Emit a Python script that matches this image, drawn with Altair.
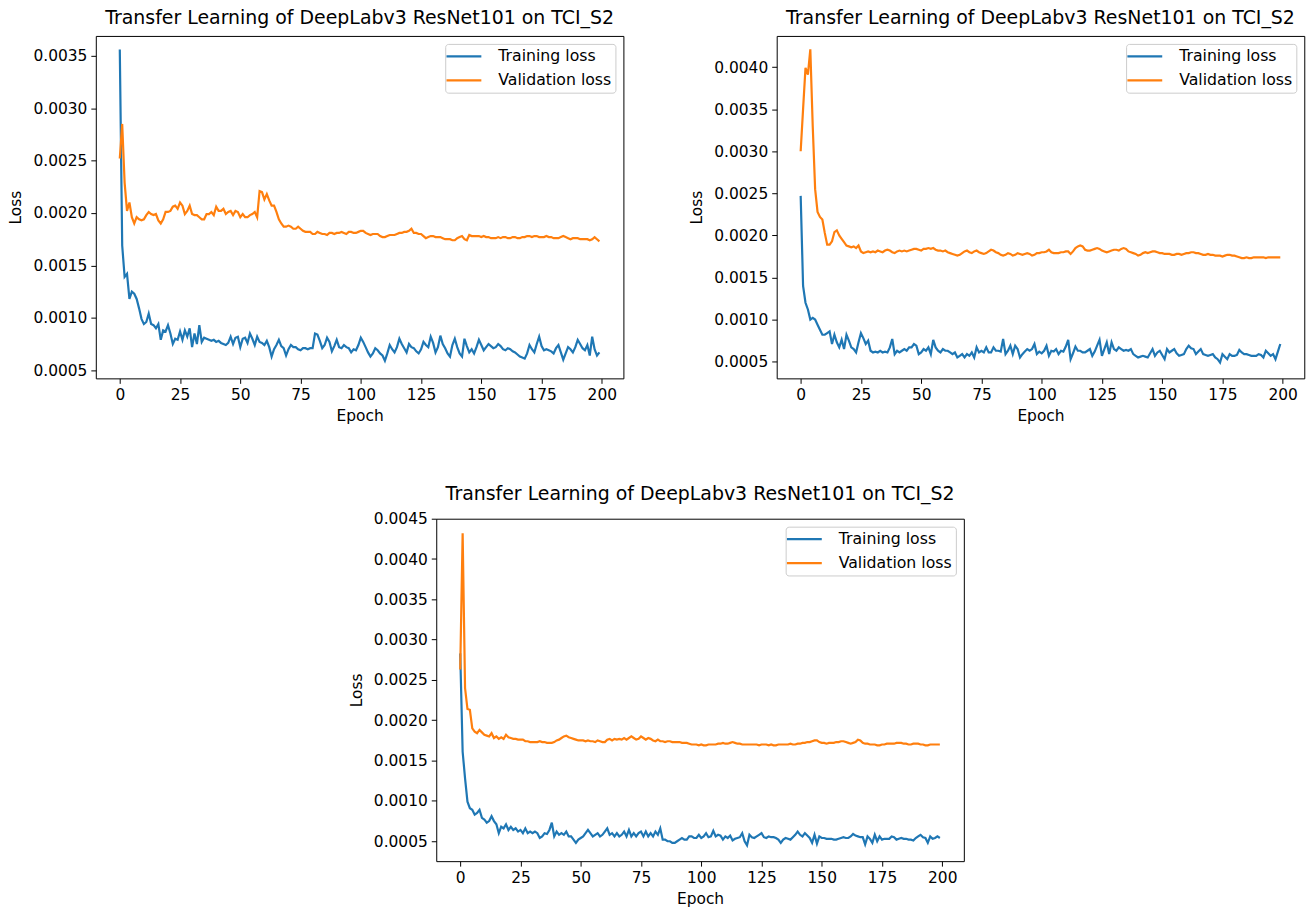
import altair as alt
import pandas as pd

TITLE = "Transfer Learning of DeepLabv3 ResNet101 on TCI_S2"
SERIES = ["Training loss", "Validation loss"]
COLORS = ["#1f77b4", "#ff7f0e"]
epochs = list(range(200))
x_ticks = [0, 25, 50, 75, 100, 125, 150, 175, 200]

# loss values in units of 1e-5
p1_train = [
    356, 169, 139, 142, 118, 125, 123, 118, 109, 99,
    94, 96, 104, 94, 93, 90, 94, 79, 88, 87,
    93, 85, 75, 80, 79, 87, 79, 88, 82, 90,
    72, 85, 75, 93, 77, 81, 80, 79, 78, 79,
    77, 78, 76, 75, 74, 76, 82, 75, 81, 82,
    72, 80, 81, 76, 85, 80, 74, 82, 77, 76,
    74, 78, 72, 63, 70, 74, 79, 73, 71, 64,
    70, 74, 72, 72, 70, 69, 71, 71, 70, 71,
    71, 85, 84, 78, 71, 74, 81, 77, 68, 73,
    79, 72, 71, 74, 72, 71, 67, 70, 69, 74,
    81, 77, 72, 67, 63, 66, 71, 69, 66, 64,
    59, 66, 74, 70, 67, 72, 80, 75, 71, 67,
    75, 72, 71, 68, 66, 70, 77, 74, 72, 82,
    76, 67, 72, 83, 75, 71, 66, 63, 74, 80,
    72, 66, 63, 80, 73, 67, 70, 66, 72, 79,
    74, 69, 72, 75, 73, 71, 72, 75, 73, 70,
    69, 71, 70, 68, 67, 65, 63, 62, 61, 66,
    74, 70, 67, 75, 82, 73, 69, 70, 69, 68,
    66, 71, 74, 67, 60, 66, 72, 70, 67, 72,
    79, 75, 71, 69, 74, 64, 82, 70, 64, 67,
]
p1_val = [
    252, 285, 229, 202, 210, 196, 190, 196, 194, 193,
    194, 198, 201, 199, 198, 199, 193, 190, 194, 201,
    201, 202, 206, 207, 204, 210, 207, 199, 202, 207,
    199, 198, 198, 196, 194, 194, 199, 199, 201, 198,
    206, 202, 202, 204, 199, 201, 202, 198, 202, 201,
    196, 199, 196, 196, 198, 199, 201, 196, 221, 220,
    213, 218, 212, 207, 207, 201, 194, 190, 187, 187,
    188, 187, 185, 185, 187, 185, 183, 182, 182, 182,
    180, 180, 182, 181, 180, 180, 179, 181, 181, 180,
    181, 181, 182, 181, 180, 182, 182, 181, 181, 182,
    183, 183, 181, 180, 179, 180, 180, 180, 178, 177,
    177, 178, 179, 179, 179, 180, 181, 181, 182, 182,
    183, 185, 181, 181, 180, 180, 178, 176, 177, 178,
    178, 177, 177, 177, 176, 175, 175, 175, 174, 174,
    176, 177, 178, 175, 174, 179, 178, 178, 178, 178,
    177, 178, 177, 177, 176, 176, 176, 177, 176, 177,
    177, 176, 176, 177, 177, 176, 176, 177, 177, 178,
    178, 177, 178, 178, 177, 177, 177, 178, 177, 177,
    176, 176, 176, 177, 178, 177, 176, 175, 176, 176,
    176, 175, 175, 175, 175, 174, 175, 177, 175, 173,
]
p2_train = [
    247, 140, 120, 112, 100, 102, 100, 94, 88, 82,
    82, 84, 86, 71, 82, 73, 67, 76, 65, 82,
    75, 67, 65, 61, 73, 84, 78, 71, 75, 63,
    61, 62, 61, 63, 61, 62, 61, 67, 77, 59,
    63, 61, 63, 65, 63, 67, 67, 71, 69, 59,
    61, 65, 63, 67, 59, 76, 67, 63, 61, 65,
    63, 63, 61, 59, 61, 55, 57, 59, 55, 59,
    57, 61, 55, 67, 61, 63, 61, 67, 61, 61,
    67, 63, 63, 62, 77, 59, 63, 69, 59, 69,
    65, 55, 59, 62, 65, 63, 65, 71, 59, 62,
    60, 63, 69, 57, 63, 62, 65, 59, 63, 62,
    68, 76, 53, 60, 68, 63, 63, 61, 61, 63,
    65, 57, 62, 69, 76, 57, 65, 73, 59, 73,
    65, 63, 67, 65, 63, 64, 63, 65, 59, 57,
    55, 56, 57, 56, 55, 60, 65, 57, 61, 63,
    58, 53, 65, 61, 63, 65, 60, 57, 58, 59,
    65, 69, 66, 65, 59, 62, 65, 59, 58, 57,
    58, 59, 55, 53, 49, 59, 56, 53, 59, 57,
    57, 58, 64, 61, 59, 59, 58, 57, 57, 57,
    59, 58, 55, 63, 60, 57, 59, 53, 62, 71,
]
p2_val = [
    300, 350, 399, 391, 421, 330, 255, 228, 222, 219,
    203, 189, 189, 193, 204, 206, 200, 196, 192, 188,
    187, 186, 187, 185, 188, 181, 179, 180, 181, 180,
    181, 180, 182, 181, 180, 182, 183, 182, 180, 179,
    181, 182, 181, 182, 181, 182, 183, 184, 184, 183,
    182, 184, 184, 185, 184, 185, 183, 182, 182, 181,
    182, 180, 179, 178, 177, 176, 177, 179, 181, 182,
    180, 179, 181, 182, 180, 179, 178, 179, 181, 183,
    182, 180, 179, 177, 176, 177, 179, 178, 176, 177,
    179, 178, 177, 178, 179, 178, 176, 177, 179, 179,
    180, 180, 181, 183, 180, 179, 179, 179, 180, 180,
    181, 181, 178, 181, 185, 187, 188, 187, 183, 182,
    182, 183, 184, 185, 184, 182, 181, 180, 181, 182,
    183, 183, 182, 184, 185, 184, 181, 180, 179, 178,
    176, 177, 179, 180, 179, 180, 181, 181, 180, 179,
    179, 178, 178, 178, 177, 177, 178, 178, 177, 178,
    179, 179, 180, 180, 179, 179, 178, 177, 177, 178,
    177, 177, 176, 176, 176, 175, 176, 177, 177, 176,
    176, 175, 174, 173, 173, 174, 173, 173, 174, 174,
    174, 174, 174, 173, 174, 174, 174, 174, 174, 174,
]
p3_train = [
    283, 161, 128, 99, 91, 89, 83, 85, 89, 79,
    77, 73, 75, 81, 75, 71, 60, 68, 66, 71,
    64, 68, 64, 66, 62, 64, 60, 66, 60, 62,
    60, 62, 60, 54, 56, 60, 59, 64, 73, 56,
    62, 58, 60, 58, 62, 56, 56, 52, 48, 52,
    54, 56, 60, 64, 60, 56, 58, 60, 56, 58,
    62, 66, 58, 60, 56, 60, 56, 58, 62, 56,
    64, 56, 60, 56, 60, 62, 56, 62, 56, 60,
    56, 62, 58, 66, 52, 52, 50, 50, 48, 48,
    50, 52, 54, 52, 52, 56, 56, 54, 54, 58,
    54, 56, 60, 55, 56, 63, 56, 58, 57, 52,
    56, 54, 57, 51, 53, 54, 55, 60, 50, 45,
    58, 55, 54, 56, 58, 60, 55, 54, 56, 55,
    55, 54, 52, 48, 52, 54, 53, 52, 55, 58,
    62, 58, 56, 60, 57, 54, 48, 58, 47, 56,
    54, 54, 53, 53, 53, 52, 52, 53, 54, 55,
    54, 54, 56, 59, 57, 56, 55, 55, 46, 56,
    53, 48, 58, 50, 56, 52, 53, 53, 53, 56,
    55, 52, 53, 54, 53, 53, 52, 52, 51, 54,
    56, 58, 55, 54, 48, 56, 53, 54, 56, 54,
]
p3_val = [
    263, 432, 240, 214, 213, 190, 186, 184, 188, 185,
    182, 181, 180, 184, 178, 180, 177, 179, 177, 182,
    179, 178, 177, 177, 176, 176, 176, 174, 174, 173,
    173, 173, 173, 174, 173, 173, 172, 172, 172, 173,
    175, 176, 178, 180, 181, 179, 178, 177, 176, 175,
    175, 175, 174, 175, 174, 174, 173, 175, 174, 173,
    173, 176, 177, 175, 177, 176, 177, 176, 178, 176,
    178, 180, 178, 176, 177, 180, 178, 176, 178, 177,
    175, 174, 176, 174, 174, 173, 174, 174, 173, 173,
    173, 173, 172, 172, 172, 171, 170, 170, 170, 169,
    170, 169, 169, 170, 170, 170, 170, 171, 171, 172,
    171, 171, 172, 173, 172, 171, 171, 170, 170, 170,
    170, 170, 170, 170, 169, 170, 170, 170, 169, 170,
    169, 169, 170, 170, 170, 170, 170, 171, 170, 170,
    171, 171, 172, 172, 173, 173, 174, 175, 175, 173,
    172, 172, 171, 172, 172, 172, 173, 173, 174, 174,
    173, 172, 171, 172, 173, 176, 175, 172, 171, 171,
    170, 170, 170, 169, 169, 170, 170, 171, 171, 171,
    171, 172, 172, 172, 171, 171, 170, 170, 171, 171,
    171, 170, 170, 169, 169, 170, 170, 170, 170, 170,
]

p1_yticks = [0.0005, 0.0010, 0.0015, 0.0020, 0.0025, 0.0030, 0.0035]
p2_yticks = [0.0005, 0.0010, 0.0015, 0.0020, 0.0025, 0.0030, 0.0035, 0.0040]
p3_yticks = [0.0005, 0.0010, 0.0015, 0.0020, 0.0025, 0.0030, 0.0035, 0.0040, 0.0045]

UNIT = 1e-5


def panel(train, val, ydomain, yticks):
    df = pd.DataFrame({
        "Epoch": epochs + epochs,
        "Loss": [v * UNIT for v in train] + [v * UNIT for v in val],
        "series": [SERIES[0]] * len(train) + [SERIES[1]] * len(val),
    })
    return alt.Chart(df).mark_line(strokeWidth=2.2).encode(
        x=alt.X("Epoch:Q",
                scale=alt.Scale(domain=[-9.95, 208.95], nice=False, zero=False),
                axis=alt.Axis(values=x_ticks, format="d", title="Epoch",
                              titlePadding=6)),
        y=alt.Y("Loss:Q",
                scale=alt.Scale(domain=ydomain, nice=False, zero=False),
                axis=alt.Axis(values=yticks, format=".4f", title="Loss",
                              titlePadding=9)),
        color=alt.Color("series:N",
                        scale=alt.Scale(domain=SERIES, range=COLORS),
                        legend=alt.Legend(title=None, orient="top-right")),
    ).properties(width=530, height=344, title=TITLE)


c1 = panel(p1_train, p1_val, [0.000422, 0.00369], p1_yticks)
c2 = panel(p2_train, p2_val, [0.000302, 0.00437], p2_yticks)
c3 = panel(p3_train, p3_val, [0.000253, 0.00450], p3_yticks)

top = alt.hconcat(c1, c2, spacing=65).resolve_scale(color="independent")
chart = alt.vconcat(top, c3, spacing=59, center=True).resolve_scale(
    color="independent"
).properties(
    padding={"left": 8, "top": 6, "right": 5, "bottom": 5}
).configure(
    font="DejaVu Sans"
).configure_view(
    stroke="black", strokeWidth=1
).configure_axis(
    grid=False, domain=False, tickColor="black", tickSize=5, tickWidth=1,
    labelFontSize=15.5, labelColor="black", labelPadding=4, labelFlush=False,
    labelOverlap=False,
    titleFontSize=15.5, titleFontWeight="normal", titleColor="black",
).configure_title(
    fontSize=19, fontWeight="normal", color="black", anchor="middle",
    offset=8,
).configure_legend(
    offset=8, padding=4, fillColor="rgba(255,255,255,0.85)",
    strokeColor="#cccccc", cornerRadius=3, labelFontSize=15.8,
    labelColor="black", symbolType="M-2.5,0H2.5", symbolSize=196,
    symbolStrokeWidth=2.2, symbolOffset=6.3, rowPadding=7.2, labelOffset=26,
)

chart.save("out.html", embed_options={"renderer": "svg", "actions": False})
